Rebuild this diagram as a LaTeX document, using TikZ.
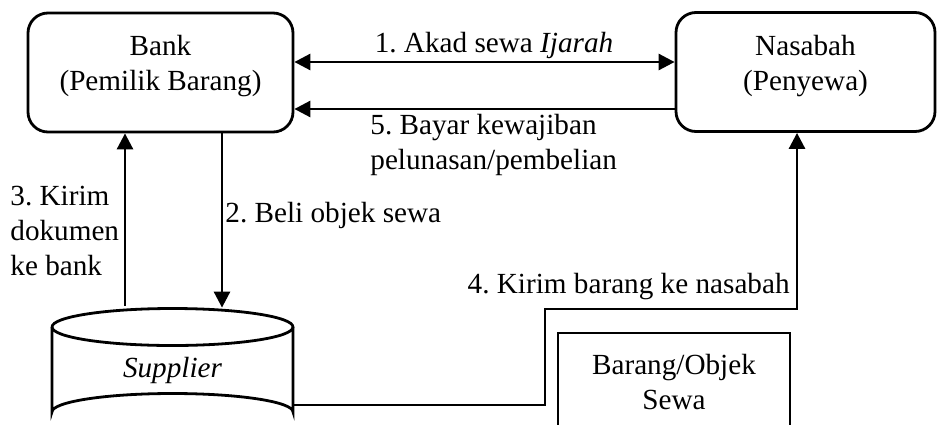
\documentclass[tikz,border=0pt]{standalone}
\usepackage{fontspec}
\setmainfont{Liberation Serif}
\usetikzlibrary{arrows.meta}
\frenchspacing
\begin{document}
\begin{tikzpicture}[x=0.5pt,y=-0.5pt,
  every node/.style={font=\fontsize{14.6}{17.6}\selectfont},
  ln/.style={line width=1.4pt},
  arr/.style={ln,-{Triangle[length=8pt,width=8pt]}},
  darr/.style={ln,{Triangle[length=8pt,width=8pt]}-{Triangle[length=8pt,width=8pt]}},
  rbox/.style={draw,ln,rounded corners=10pt,minimum width=132.5pt,minimum height=59.5pt,inner sep=0pt},
  sbox/.style={draw,ln,minimum width=116pt,minimum height=63.5pt,inner sep=0pt},
  txt/.style={inner sep=0pt,align=center},
  ltxt/.style={inner sep=0pt,align=left}]
\useasboundingbox (0,0) rectangle (937,424);
\clip (0,0) rectangle (937,424);
% boxes
\node[rbox] (bank) at (160.5,72.5) {};
\node[txt] (banktxt) at (160.5,66) {Bank\\(Pemilik Barang)};
\node[rbox,minimum width=129.5pt] (nas) at (805.5,72) {};
\node[txt] (nastxt) at (805.5,66) {Nasabah\\(Penyewa)};
% supplier cylinder
\node[inner sep=0pt,minimum width=120.5pt,minimum height=52pt] (sup) at (172.5,360) {};
\draw[ln] (52,327) arc[start angle=180,end angle=-180,x radius=120.5,y radius=18.5];
\draw[ln] (52,327) -- (52,412) arc[start angle=180,end angle=360,x radius=120.5,y radius=18.5] -- (293,327);
\node[txt] (suptxt) at (172.5,370) {\itshape Supplier};
% barang box
\node[sbox] (brg) at (674,396.5) {};
\node[txt] (brgtxt) at (674,382) {Barang/Objek\\Sewa};
% y levels
\coordinate (y1) at (0,62);
\coordinate (y5) at (0,109);
\coordinate (x3) at (125,0);
\coordinate (x2) at (222,0);
\coordinate (y4) at (0,405);
\coordinate (c1) at (545,405);
\coordinate (c2) at (545,309);
\coordinate (c3) at (797,309);
% connectors
\draw[darr] (bank.east |- y1) -- (nas.west |- y1);
\draw[arr] (nas.west |- y5) -- (bank.east |- y5);
\draw[arr] (x3 |- sup.north) ++(0,-2) -- (x3 |- bank.south);
\draw[arr] (x2 |- bank.south) -- (x2 |- sup.north);
\draw[arr] (sup.east |- y4) -- (c1) -- (c2) -- (c3) -- (c3 |- nas.south);
% labels
\node[txt] (l1) at (494,45) {1. Akad sewa \textit{Ijarah}};
\node[ltxt,anchor=west] (l5) at (370,145) {5. Bayar kewajiban\\pelunasan/pembelian};
\node[ltxt,anchor=west] (l3) at (10,231) {3. Kirim\\dokumen\\ke bank};
\node[ltxt,anchor=west] (l2) at (225,215) {2. Beli objek sewa};
\node[txt,anchor=east] (l4) at (790,287) {4. Kirim barang ke nasabah};
\end{tikzpicture}
\end{document}
